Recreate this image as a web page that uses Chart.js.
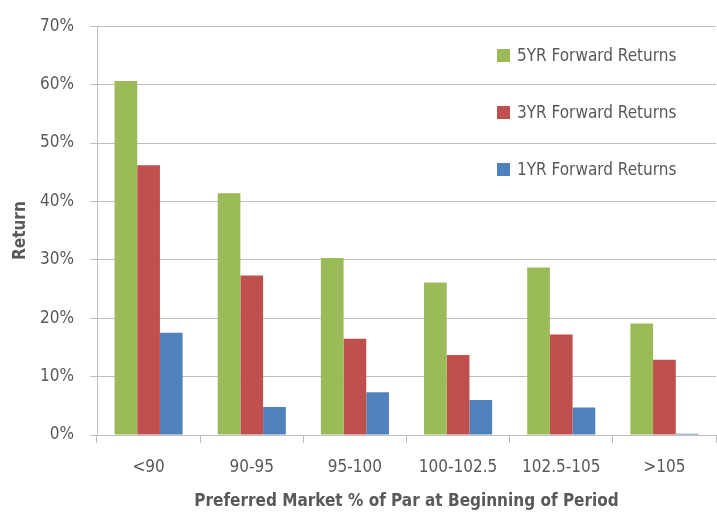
<!DOCTYPE html>
<html>
<head>
<meta charset="utf-8">
<script src="https://cdn.jsdelivr.net/npm/chart.js@4"></script>
<style>
  html, body { margin:0; padding:0; background:#fff; }
  #wrap { position:relative; width:717px; height:512px; }
  #legend { position:absolute; left:497px; top:44px; font-family:"Liberation Sans Narrow","DejaVu Sans Condensed",sans-serif; font-size:17px; color:#595959; }
  .item { display:flex; align-items:center; height:22px; margin-bottom:35px; }
  .sw { width:13px; height:13px; margin-right:7px; }
</style>
</head>
<body>
<div id="wrap">
<canvas id="c" width="717" height="512"></canvas>
<div id="legend"></div>
</div>
<script>
const categories = ["<90", "90-95", "95-100", "100-102.5", "102.5-105", ">105"];
const fiveYr  = [60.6, 41.4, 30.3, 26.1, 28.7, 19.1];
const threeYr = [46.2, 27.3, 16.5, 13.7, 17.2, 12.9];
const oneYr   = [17.5, 4.8, 7.3, 6.0, 4.7, 0.2];
const seriesNames = ["5YR Forward Returns", "3YR Forward Returns", "1YR Forward Returns"];
const colors = ["#9BBB59", "#C0504D", "#4F81BD"];
const yTicks = [0, 10, 20, 30, 40, 50, 60, 70];

const FONT = '"Liberation Sans Narrow","DejaVu Sans Condensed",sans-serif';
const seriesData = [fiveYr, threeYr, oneYr];

const chart = new Chart(document.getElementById('c'), {
  type: 'bar',
  data: {
    labels: categories,
    datasets: seriesData.map((d, i) => ({
      label: seriesNames[i],
      data: d,
      backgroundColor: colors[i],
      borderWidth: 0,
      categoryPercentage: 0.66,
      barPercentage: 1.0
    }))
  },
  options: {
    responsive: false,
    animation: false,
    layout: { padding: { top: 14, right: 1, left: 0, bottom: 0 } },
    plugins: { legend: { display: false }, tooltip: { enabled: false } },
    scales: {
      x: {
        grid: { drawOnChartArea: false, drawTicks: true, tickLength: 8, color: '#bfbfbf', offset: true },
        border: { color: '#bfbfbf', width: 1 },
        ticks: { color: '#595959', font: { family: FONT, size: 17 }, padding: 14, maxRotation: 0 },
        title: { display: true, text: 'Preferred Market % of Par at Beginning of Period', color: '#595959',
                 font: { family: FONT, size: 17, weight: 'bold' }, padding: { top: 0, bottom: 0 } },
        afterFit: (s) => { s.height = 77; }
      },
      y: {
        min: 0, max: 70,
        afterBuildTicks: (s) => { s.ticks = yTicks.map(v => ({ value: v })); },
        grid: { color: '#bfbfbf', tickLength: 7, drawTicks: true },
        border: { color: '#bfbfbf', width: 1 },
        ticks: { color: '#595959', font: { family: FONT, size: 17 }, padding: 16, callback: (v) => v + '%' },
        title: { display: true, text: 'Return', color: '#595959',
                 font: { family: FONT, size: 17, weight: 'bold' }, padding: { top: 10, bottom: 0 } },
        afterFit: (s) => { s.width = 97; }
      }
    }
  }
});

const lg = document.getElementById('legend');
seriesNames.forEach((n, i) => {
  const it = document.createElement('div');
  it.className = 'item';
  const sw = document.createElement('span');
  sw.className = 'sw';
  sw.style.background = colors[i];
  const t = document.createElement('span');
  t.textContent = n;
  it.appendChild(sw); it.appendChild(t);
  lg.appendChild(it);
});
</script>
</body>
</html>
